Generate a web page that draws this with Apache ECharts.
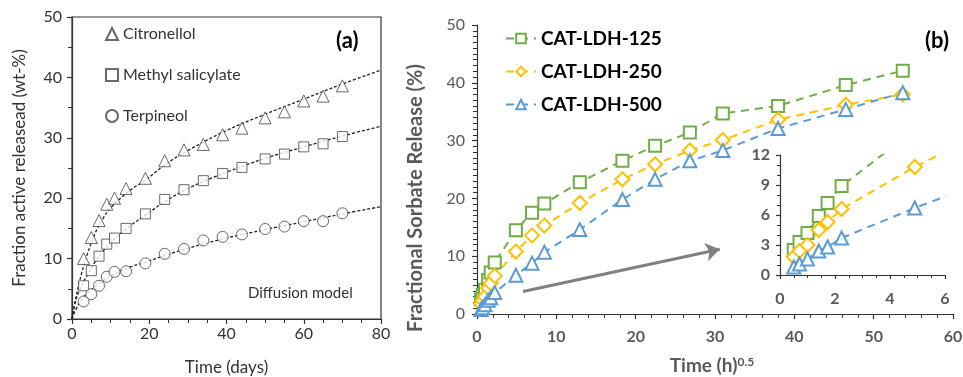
<!DOCTYPE html>
<html>
<head>
<meta charset="utf-8">
<script src="https://cdn.jsdelivr.net/npm/echarts@6/dist/echarts.min.js"></script>
<style>
  html, body { margin: 0; padding: 0; background: #fff; }
  #chart { width: 963px; height: 377px; }
</style>
</head>
<body>
<div id="chart"></div>
<script>
// (a) 释放数据，时间单位：天
const daysA = [3, 5, 7, 9, 11, 14, 19, 24, 29, 34, 39, 44, 50, 55, 60, 65, 70];
const citronellol = [10.0, 13.5, 16.3, 19.0, 20.0, 21.6, 23.3, 26.2, 28.0, 28.9, 30.5, 31.6, 33.3, 34.3, 36.1, 36.9, 38.6];
const methylSalicylate = [5.5, 8.0, 10.4, 12.4, 13.4, 15.0, 17.4, 19.8, 21.4, 22.9, 24.1, 25.1, 26.5, 27.3, 28.5, 29.0, 30.2];
const terpineol = [2.9, 4.1, 5.5, 7.0, 7.8, 7.9, 9.2, 10.8, 11.6, 13.0, 13.6, 14.0, 14.9, 15.3, 16.2, 16.2, 17.5];

// (a) 扩散模型拟合曲线
const fitDays = [0, 1, 2.5, 4, 6, 8, 10, 15, 19, 24, 30, 40, 50, 60, 70, 80];
const citronellolFit = [0, 3.5, 7.6, 10.8, 14.2, 16.6, 18.4, 21.3, 23.0, 25.5, 27.9, 31.2, 33.9, 36.4, 38.9, 41.2];
const methylFit = [0, 3.1, 5.5, 7.3, 9.5, 11.2, 12.7, 15.4, 17.2, 19.4, 21.6, 24.3, 26.6, 28.5, 30.3, 31.9];
const terpineolFit = [0, 1.6, 3.2, 4.3, 5.4, 6.3, 7.1, 8.6, 9.4, 10.5, 11.7, 13.4, 14.8, 16.1, 17.4, 18.6];

// (b) 山梨酸盐释放，横轴为 时间^0.5
const sqrtTime = [0.5, 0.71, 1, 1.41, 1.73, 2.24, 4.9, 6.93, 8.49, 12.96, 18.33, 22.45, 26.83, 30.98, 37.95, 46.48, 53.67];
const ldh125 = [2.5, 3.3, 4.2, 5.9, 7.2, 8.9, 14.5, 17.5, 19.1, 22.8, 26.5, 29.1, 31.4, 34.7, 36.0, 39.6, 42.1];
const ldh250 = [1.8, 2.4, 3.0, 4.5, 5.3, 6.6, 10.8, 13.6, 15.3, 19.2, 23.3, 25.9, 28.3, 30.1, 33.6, 36.2, 38.0];
const ldh500 = [0.8, 1.1, 1.6, 2.4, 2.8, 3.7, 6.7, 8.8, 10.7, 14.6, 19.8, 23.3, 26.5, 28.3, 32.1, 35.4, 38.3];

// 箭头起止点（数据坐标）
const arrowStart = [5.8, 3.9];
const arrowEnd = [30.6, 11.2];

const FONT = 'Lato, "Liberation Sans", sans-serif';
const GRAY = '#595959';

function pairs(xs, ys) {
  return xs.map((x, i) => [x, ys[i]]);
}

// 散点（a）
function scatterA(name, symbol, size, ys) {
  return {
    name: name,
    type: 'scatter',
    xAxisIndex: 0,
    yAxisIndex: 0,
    symbol: symbol,
    symbolSize: size,
    itemStyle: { color: '#fff', borderColor: '#444', borderWidth: 1 },
    data: pairs(daysA, ys),
    z: 3
  };
}

// 拟合虚线（a）
function fitLine(ys) {
  return {
    type: 'line',
    xAxisIndex: 0,
    yAxisIndex: 0,
    smooth: 0.4,
    showSymbol: false,
    symbol: 'none',
    lineStyle: { color: '#222', width: 1.3, type: [3, 2] },
    data: pairs(fitDays, ys),
    z: 2
  };
}

// 折线（b 主图和插图）
function lineB(name, color, symbol, ys, axis, size) {
  return {
    name: name,
    type: 'line',
    xAxisIndex: axis,
    yAxisIndex: axis,
    symbol: symbol,
    symbolSize: size,
    showAllSymbol: true,
    clip: true,
    itemStyle: { color: '#fff', borderColor: color, borderWidth: 2 },
    lineStyle: { color: color, width: 2, type: [8, 6] },
    data: pairs(sqrtTime, ys)
  };
}

function valueAxis(grid, min, max, interval, minorSplit, opts) {
  return Object.assign({
    type: 'value',
    gridIndex: grid,
    min: min,
    max: max,
    interval: interval,
    axisLine: { show: true, lineStyle: { color: '#333', width: 1.2 } },
    axisTick: { show: true, length: 5, lineStyle: { color: '#333', width: 1.2 } },
    minorTick: { show: true, splitNumber: minorSplit, length: 4, lineStyle: { color: '#333', width: 1 } },
    splitLine: { show: false },
    axisLabel: { color: GRAY, fontSize: 16, fontFamily: FONT }
  }, opts || {});
}

const chart = echarts.init(document.getElementById('chart'));

chart.setOption({
  animation: false,
  backgroundColor: '#fff',
  grid: [
    { left: 72, top: 17, width: 309, height: 302, show: true, borderColor: '#333', borderWidth: 1.2, outerBoundsMode: 'none', containLabel: false },
    { left: 477, top: 25, width: 476, height: 289, outerBoundsMode: 'none', containLabel: false },
    { left: 780, top: 155, width: 165, height: 120, outerBoundsMode: 'none', containLabel: false }
  ],
  xAxis: [
    valueAxis(0, 0, 80, 20, 4, {
      axisLabel: { color: '#333', fontSize: 16, fontFamily: FONT, margin: 7 },
      name: 'Time (days)',
      nameLocation: 'middle',
      nameGap: 40,
      nameTextStyle: { color: '#333', fontSize: 17, fontFamily: FONT }
    }),
    valueAxis(1, 0, 60, 10, 5, {
      axisLabel: { color: GRAY, fontSize: 16, fontWeight: 'bold', fontFamily: FONT, margin: 15 }
    }),
    valueAxis(2, 0, 6, 2, 4, {
      axisTick: { show: true, length: 4, lineStyle: { color: '#333', width: 1.2 } },
      minorTick: { show: true, splitNumber: 4, length: 3, lineStyle: { color: '#333' } },
      axisLabel: { color: GRAY, fontSize: 16, fontWeight: 'bold', fontFamily: FONT, margin: 16 }
    })
  ],
  yAxis: [
    valueAxis(0, 0, 50, 10, 2, {
      axisLabel: { color: '#333', fontSize: 16, fontFamily: FONT, margin: 10 },
      name: 'Fraction active releasead (wt-%)',
      nameLocation: 'middle',
      nameGap: 44,
      nameTextStyle: { color: '#333', fontSize: 17, fontFamily: FONT }
    }),
    valueAxis(1, 0, 50, 10, 10, {
      axisLabel: { color: GRAY, fontSize: 16, fontFamily: FONT, margin: 12 }
    }),
    valueAxis(2, 0, 12, 3, 3, {
      axisTick: { show: true, length: 4, lineStyle: { color: '#333', width: 1.2 } },
      minorTick: { show: true, splitNumber: 3, length: 3, lineStyle: { color: '#333' } },
      axisLabel: { color: GRAY, fontSize: 16, fontWeight: 'bold', fontFamily: FONT, margin: 10 }
    })
  ],
  legend: [
    {
      data: ['Citronellol', 'Methyl salicylate', 'Terpineol'],
      orient: 'vertical',
      left: 100,
      top: 21,
      itemWidth: 12,
      itemHeight: 12,
      itemGap: 25,
      textStyle: { color: '#333', fontSize: 16, fontFamily: FONT }
    },
    {
      data: ['CAT-LDH-125', 'CAT-LDH-250', 'CAT-LDH-500'],
      orient: 'vertical',
      left: 500,
      top: 24,
      itemWidth: 30,
      itemHeight: 12,
      itemGap: 14,
      textStyle: { color: '#000', fontSize: 19, fontWeight: 'bold', fontFamily: FONT }
    }
  ],
  graphic: [
    { type: 'text', left: 336, top: 30, style: { text: '(a)', font: 'bold 22px ' + FONT, fill: '#000' } },
    { type: 'text', left: 925, top: 30, style: { text: '(b)', font: 'bold 22px ' + FONT, fill: '#000' } },
    { type: 'text', left: 248, top: 286, style: { text: 'Diffusion model', font: '15px ' + FONT, fill: '#333' } },
    {
      type: 'text', x: 416, y: 198, rotation: Math.PI / 2,
      style: { text: 'Fractional Sorbate Release (%)', font: 'bold 20px ' + FONT, fill: GRAY, align: 'center', verticalAlign: 'middle' }
    },
    {
      type: 'text', x: 712, y: 366,
      style: {
        text: '{a|Time (h)}{b|0.5}',
        align: 'center',
        verticalAlign: 'middle',
        rich: {
          a: { font: 'bold 19px ' + FONT, fill: GRAY, color: GRAY },
          b: { font: 'bold 12px ' + FONT, fill: GRAY, color: GRAY, verticalAlign: 'top', padding: [0, 0, 8, 0] }
        }
      }
    }
  ],
  series: [
    fitLine(citronellolFit),
    fitLine(methylFit),
    fitLine(terpineolFit),
    scatterA('Citronellol', 'triangle', 12, citronellol),
    scatterA('Methyl salicylate', 'rect', 10, methylSalicylate),
    scatterA('Terpineol', 'circle', 11, terpineol),
    lineB('CAT-LDH-125', '#70AD47', 'rect', ldh125, 1, 12),
    lineB('CAT-LDH-250', '#FFC000', 'diamond', ldh250, 1, 14),
    lineB('CAT-LDH-500', '#5B9BD5', 'triangle', ldh500, 1, 13),
    lineB('inset-125', '#70AD47', 'rect', ldh125, 2, 12),
    lineB('inset-250', '#FFC000', 'diamond', ldh250, 2, 14),
    lineB('inset-500', '#5B9BD5', 'triangle', ldh500, 2, 13),
    {
      type: 'line',
      xAxisIndex: 1,
      yAxisIndex: 1,
      symbol: 'none',
      data: [arrowStart],
      lineStyle: { opacity: 0 },
      markLine: {
        silent: true,
        symbol: ['none', 'arrow'],
        symbolSize: 14,
        label: { show: false },
        itemStyle: { color: '#808080' },
        lineStyle: { color: '#808080', width: 3, type: 'solid', opacity: 1 },
        emphasis: { disabled: true },
        data: [[{ coord: arrowStart }, { coord: arrowEnd }]]
      }
    }
  ]
});

window.addEventListener('resize', function () {
  chart.resize();
});
</script>
</body>
</html>
